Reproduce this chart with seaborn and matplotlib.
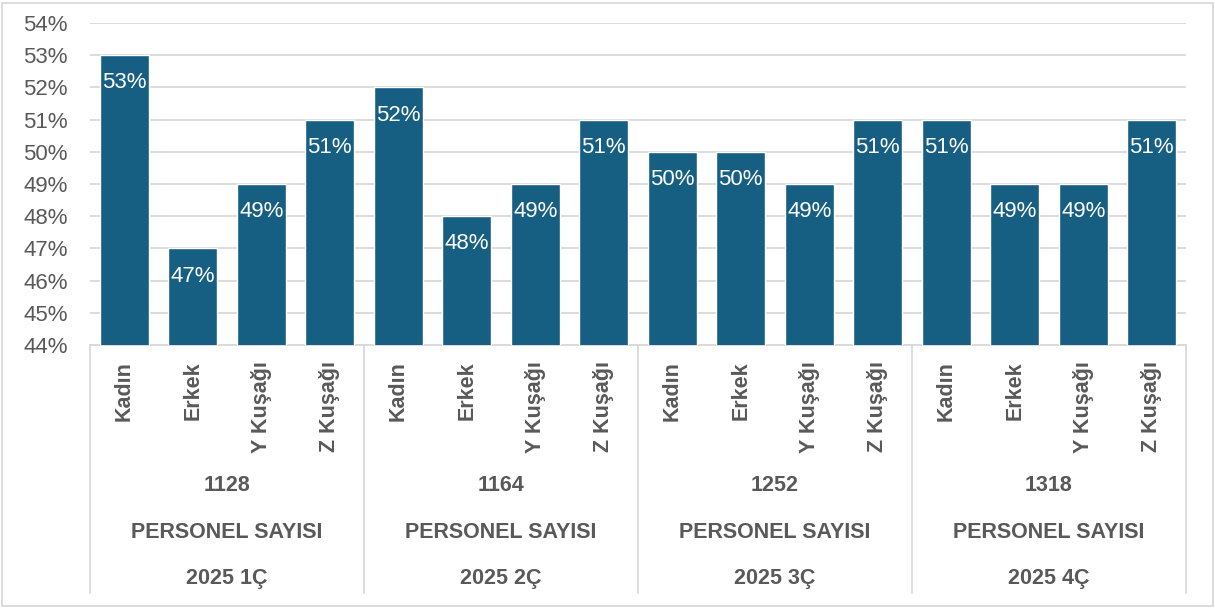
import matplotlib
matplotlib.use("Agg")
import matplotlib.pyplot as plt
import matplotlib.transforms as mtransforms
from matplotlib.patches import Rectangle
from matplotlib.ticker import FuncFormatter
import pandas as pd
import seaborn as sns

quarters = ["2025 1Ç", "2025 2Ç", "2025 3Ç", "2025 4Ç"]
staff_counts = ["1128", "1164", "1252", "1318"]
group_label = "PERSONEL SAYISI"
categories = ["Kadın", "Erkek", "Y Kuşağı", "Z Kuşağı"]
ratios = [
    [0.53, 0.47, 0.49, 0.51],
    [0.52, 0.48, 0.49, 0.51],
    [0.50, 0.50, 0.49, 0.51],
    [0.51, 0.49, 0.49, 0.51],
]

rows = []
for q, vals in zip(quarters, ratios):
    for c, v in zip(categories, vals):
        rows.append({"slot": f"{q}|{c}", "quarter": q, "category": c, "ratio": v})
df = pd.DataFrame(rows)

sns.set_style("white")
plt.rcParams["font.family"] = ["Liberation Sans", "DejaVu Sans"]

BAR = "#175f82"
GRAY = "#595959"
LINE = "#d9d9d9"

fig = plt.figure(figsize=(12.15, 6.09), dpi=100)
ax = fig.add_axes([90 / 1215, 1 - 345 / 609, 1096 / 1215, 322 / 609])

sns.barplot(data=df, x="slot", y="ratio", order=list(df["slot"]),
            color=BAR, saturation=1, width=0.715, ax=ax, zorder=3)

ax.set_ylim(0.44, 0.54)
ax.set_xlim(-0.5, len(df) - 0.5)
ax.set_yticks([0.44 + i * 0.01 for i in range(11)])
ax.yaxis.set_major_formatter(FuncFormatter(lambda v, _: f"{v * 100:.0f}%"))
ax.tick_params(axis="y", length=0, labelsize=16, labelcolor=GRAY, pad=16)
ax.tick_params(axis="x", length=0)
ax.set_xticklabels([])
ax.set_xlabel("")
ax.set_ylabel("")
ax.yaxis.grid(True, color=LINE, linewidth=1.3)
ax.set_axisbelow(True)
for side in ["left", "right", "top"]:
    ax.spines[side].set_visible(False)
ax.spines["bottom"].set_color(LINE)
ax.spines["bottom"].set_linewidth(1.3)

# value labels inside the bar ends
for patch, v in zip(ax.patches, df["ratio"]):
    ax.annotate(f"{v * 100:.0f}%", (patch.get_x() + patch.get_width() / 2, patch.get_height()),
                xytext=(0, -20), textcoords="offset points", ha="center", va="center",
                color="white", fontsize=16, zorder=4)

# multi-level category axis
trans = mtransforms.blended_transform_factory(ax.transData, ax.transAxes)
for i, row in df.iterrows():
    ax.text(i, -0.050, row["category"], rotation=90, ha="center", va="top",
            fontsize=15.5, fontweight="bold", color=GRAY, transform=trans)

n = len(categories)
for g, (q, cnt) in enumerate(zip(quarters, staff_counts)):
    mid = g * n + (n - 1) / 2
    ax.text(mid, -0.435, cnt, ha="center", va="center", fontsize=15.5,
            fontweight="bold", color=GRAY, transform=trans)
    ax.text(mid, -0.581, group_label, ha="center", va="center", fontsize=15.5,
            fontweight="bold", color=GRAY, transform=trans)
    ax.text(mid, -0.724, q, ha="center", va="center", fontsize=15.5,
            fontweight="bold", color=GRAY, transform=trans)

for b in range(len(quarters) + 1):
    ax.plot([b * n - 0.5] * 2, [0, -0.77], color=LINE, linewidth=1.3,
            transform=trans, clip_on=False)

fig.add_artist(Rectangle((2 / 1215, 3 / 609), 1211 / 1215, 603 / 609,
                         transform=fig.transFigure, fill=False,
                         edgecolor=LINE, linewidth=1.3))

fig.savefig("out.png", dpi=100)
